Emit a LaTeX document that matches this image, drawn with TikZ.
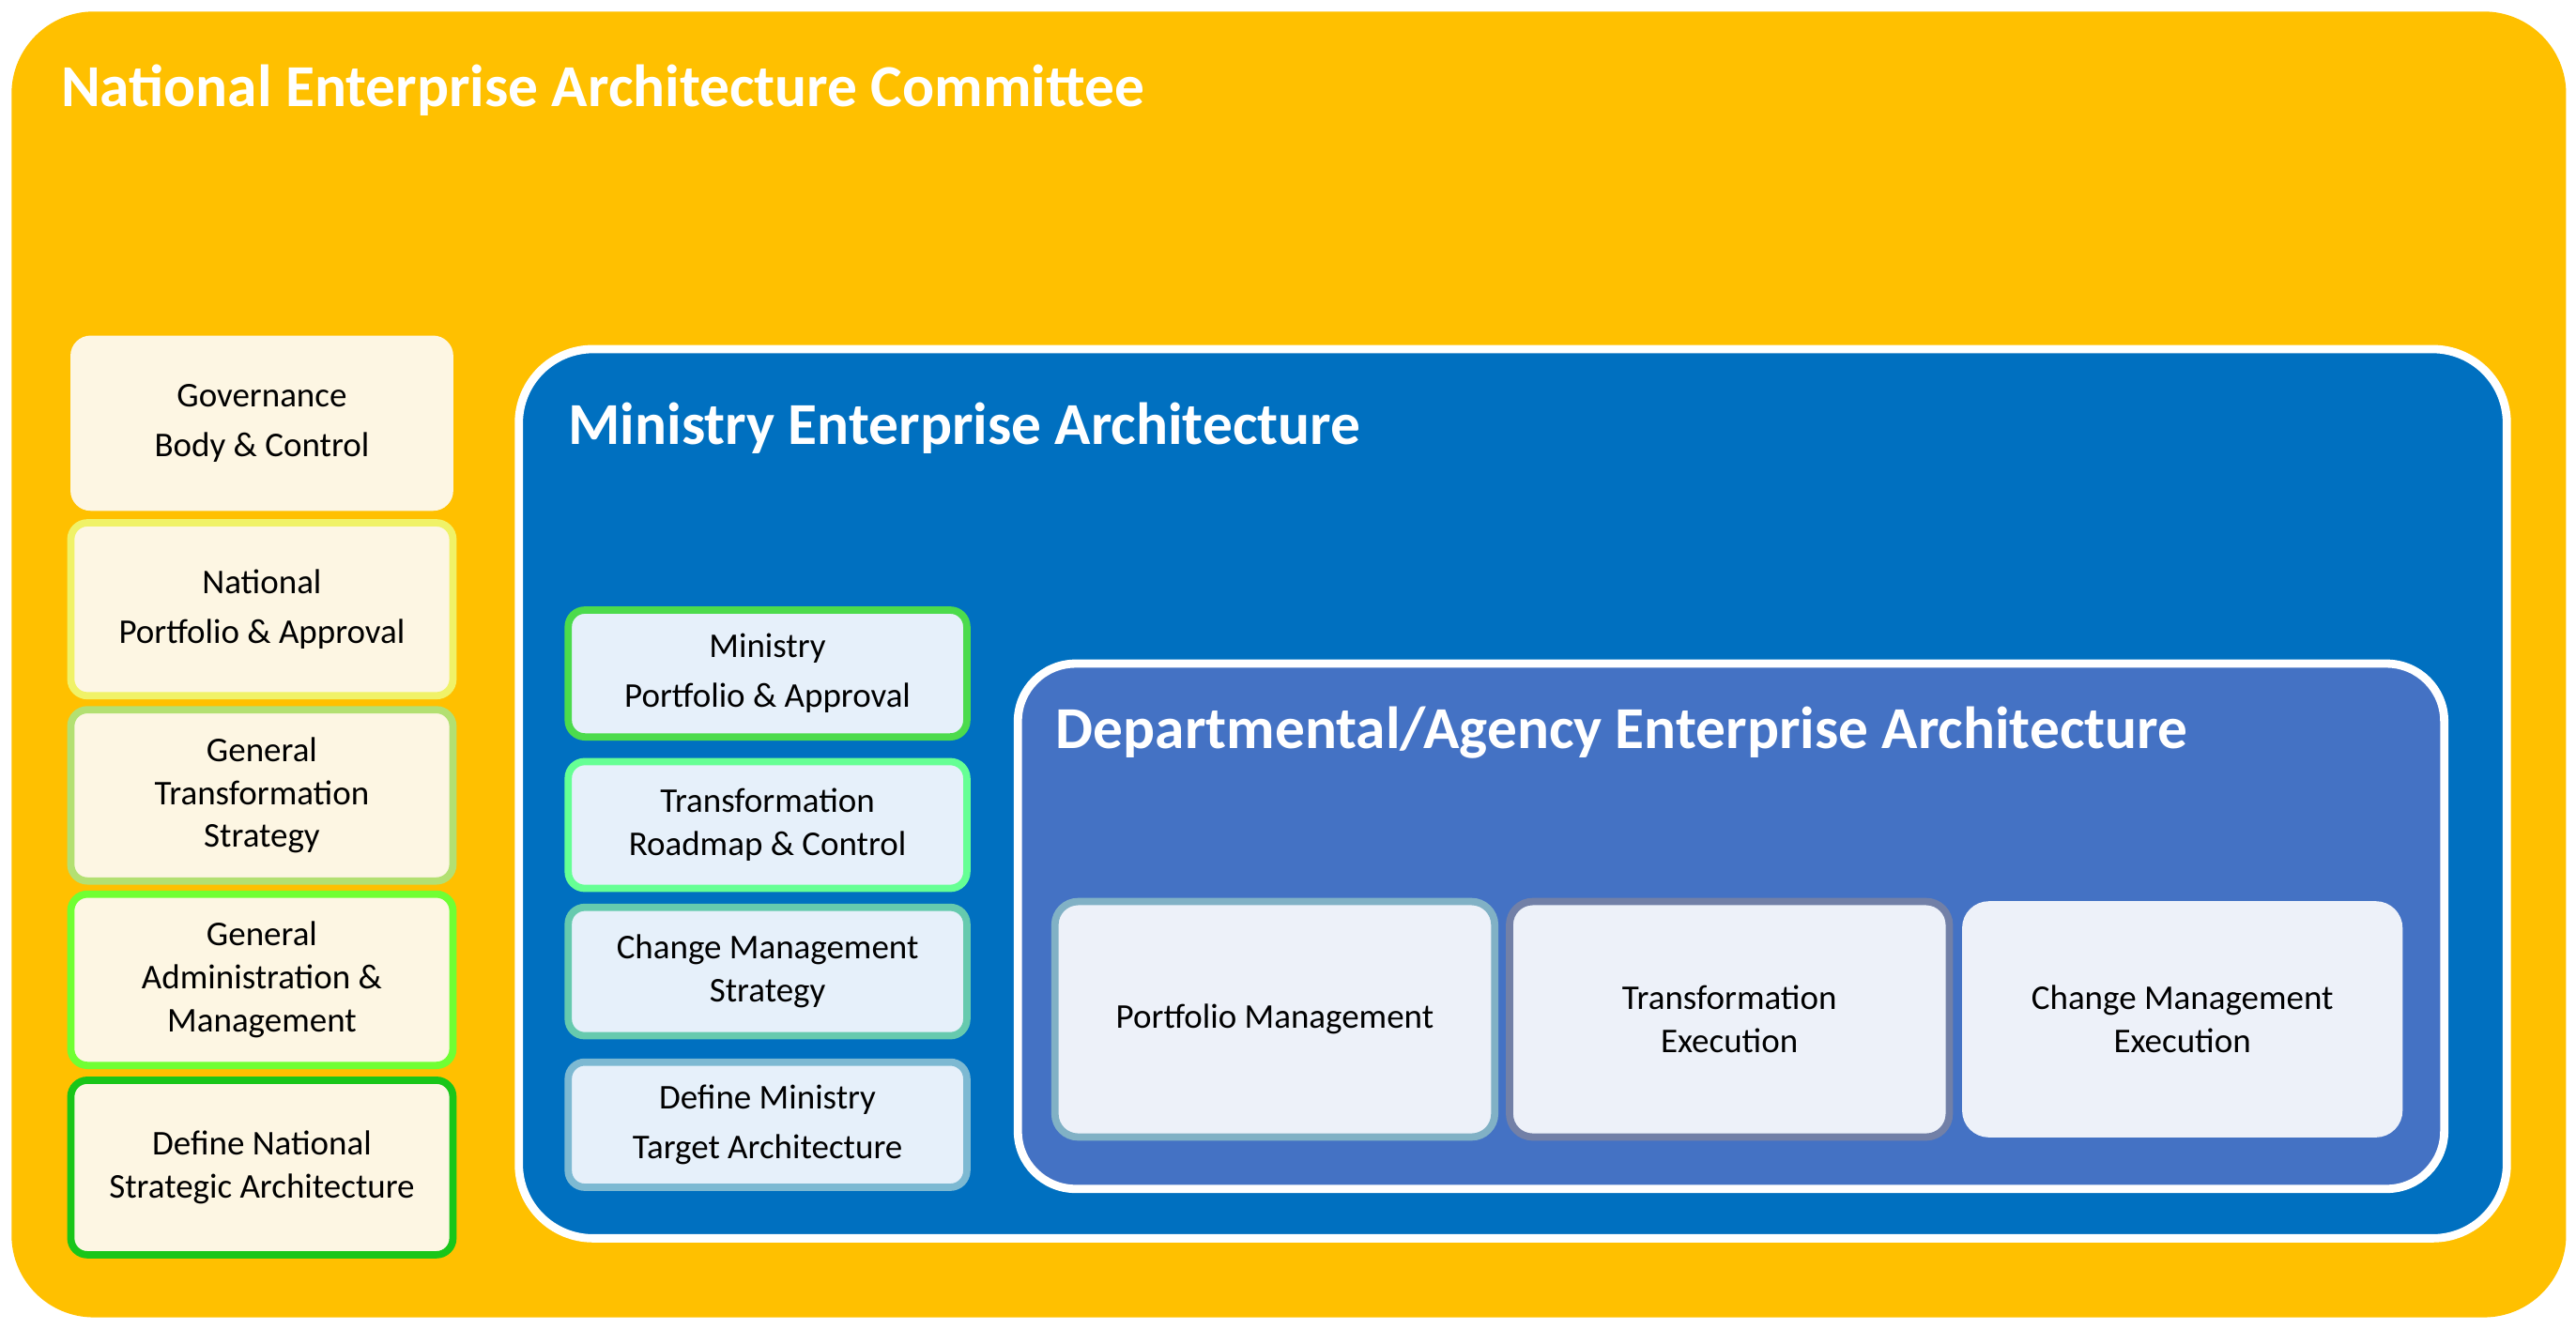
\documentclass[tikz,border=0pt]{standalone}
\usepackage{fontspec}
\setmainfont{Carlito}
\newdimen\uu \uu=0.0175cm
\begin{document}
\begin{tikzpicture}[x=0.0175cm,y=-0.0175cm,
 title/.style={anchor=west,text=white,font=\bfseries\fontsize{18}{20}\selectfont},
 lbox/.style={draw=#1,line width=2.2pt,fill=cream,rounded corners=5pt,align=center,font=\fontsize{10.5}{15}\selectfont},
 mbox/.style={draw=#1,line width=2.2pt,fill=mfill,rounded corners=5pt,align=center,font=\fontsize{10.5}{15}\selectfont},
 dbox/.style={draw=#1,line width=2.2pt,fill=dfill,rounded corners=7pt,align=center,font=\fontsize{10.5}{13}\selectfont}]
\definecolor{gold}{HTML}{FFC000}
\definecolor{cream}{HTML}{FDF6E3}
\definecolor{mblue}{HTML}{0070C0}
\definecolor{dblue}{HTML}{4472C4}
\definecolor{mfill}{HTML}{E6F0FA}
\definecolor{dfill}{HTML}{EDF1F9}
\useasboundingbox (0,0) rectangle (1564,807);
\fill[white] (0,0) rectangle (1564,807);
\fill[gold,rounded corners=50\uu] (7,7) rectangle (1558,800);
\node[title] (t1) at (30,55) {National Enterprise Architecture Committee};
% left column
\node[lbox=cream,minimum width=228\uu,minimum height=102\uu] (g) at (159,257) {Governance\\Body \& Control};
\node[lbox={yellow!90!green!60},minimum width=232\uu,minimum height=105\uu] (n) at (159,370) {National\\Portfolio \& Approval};
\node[lbox={yellow!50!green!60},minimum width=232\uu,minimum height=104\uu,font=\fontsize{10.5}{13}\selectfont] (gt) at (159,483) {General\\Transformation\\Strategy};
\node[lbox={green!70!yellow!80},minimum width=232\uu,minimum height=104\uu,font=\fontsize{10.5}{13}\selectfont] (ga) at (159,595) {General\\Administration \&\\Management};
\node[lbox={green!75!black!90!white},minimum width=232\uu,minimum height=106\uu,font=\fontsize{10.5}{13}\selectfont] (dn) at (159,709) {Define National\\Strategic Architecture};
% ministry
\draw[white,line width=2.5pt,fill=mblue,rounded corners=45\uu] (315,212) rectangle (1522,752);
\node[title] (t2) at (338,260) {Ministry Enterprise Architecture};
\node[mbox={green!80!black!70!white},minimum width=242\uu,minimum height=77\uu] (m1) at (466,409) {Ministry\\Portfolio \& Approval};
\node[mbox={green!70!cyan!60},minimum width=242\uu,minimum height=77\uu,font=\fontsize{10.5}{13}\selectfont] (m2) at (466,501) {Transformation\\Roadmap \& Control};
\node[mbox={cyan!40!green!60},minimum width=242\uu,minimum height=78\uu,font=\fontsize{10.5}{13}\selectfont] (m3) at (466,590) {Change Management\\Strategy};
\node[mbox={cyan!70!black!60!white},minimum width=242\uu,minimum height=76\uu] (m4) at (466,683) {Define Ministry\\Target Architecture};
% department
\draw[white,line width=2.5pt,fill=dblue,rounded corners=35\uu] (618,403) rectangle (1484,722);
\node[title] (t3) at (634,445) {Departmental/Agency Enterprise Architecture};
\node[dbox={cyan!60!black!60!white},minimum width=267\uu,minimum height=143\uu] (d1) at (774,619) {Portfolio Management};
\node[dbox={cyan!40!blue!60!black!70!white},minimum width=267\uu,minimum height=143\uu] (d2) at (1050,619) {Transformation\\Execution};
\node[dbox=dfill,minimum width=263\uu,minimum height=139\uu] (d3) at (1325,619) {Change Management\\Execution};
\end{tikzpicture}
\end{document}
